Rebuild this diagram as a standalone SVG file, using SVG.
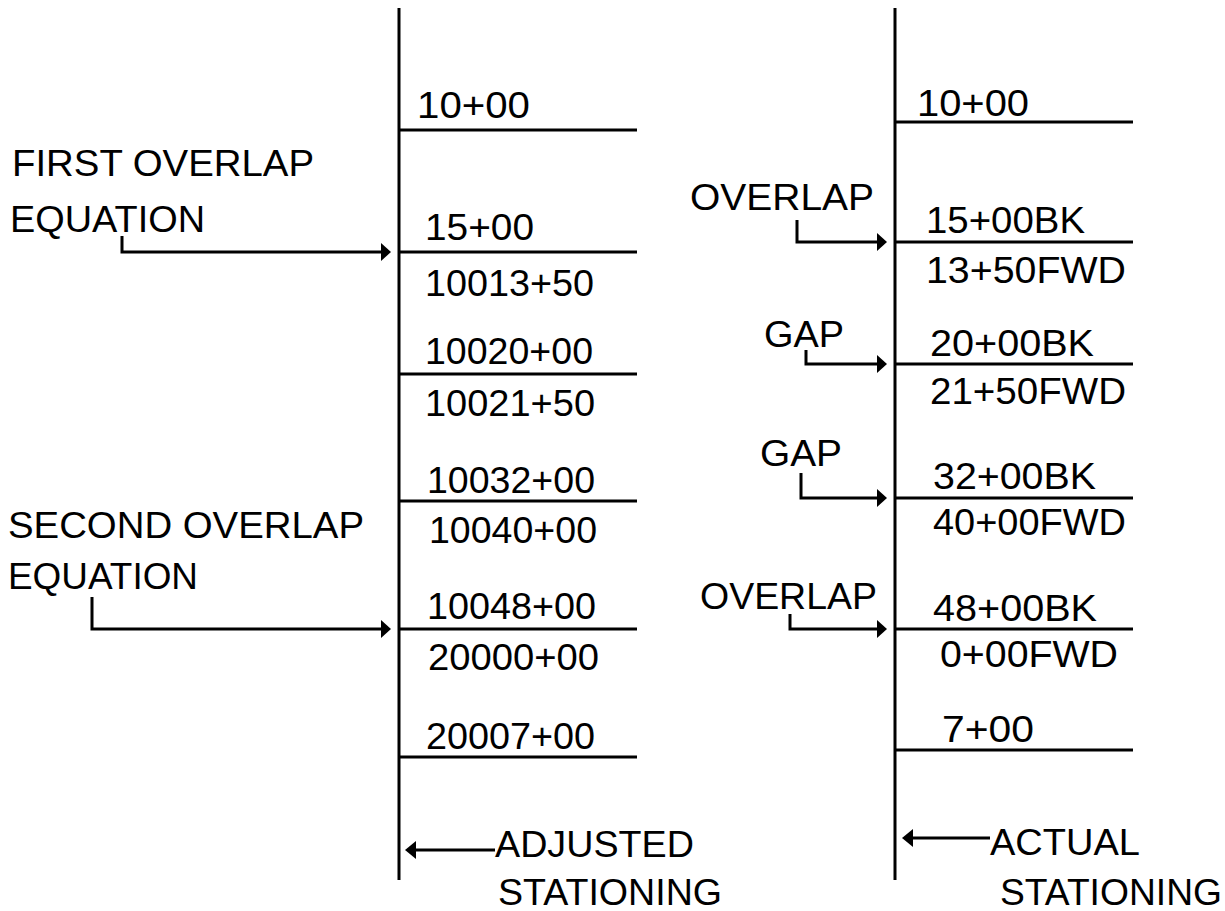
<svg xmlns="http://www.w3.org/2000/svg" width="1225" height="911" viewBox="0 0 1225 911">
<style>
text{font-family:"Liberation Sans",Arial,sans-serif;font-size:37px;fill:#000}
.ln{stroke:#000;stroke-width:3;fill:none}
.ar{fill:#000}
</style>
<rect width="1225" height="911" fill="#fff"/>
<g id="axis-adjusted">
<line class="ln" x1="399" y1="8" x2="399" y2="880"/>
<line class="ln" x1="399" y1="130" x2="637" y2="130"/>
<line class="ln" x1="399" y1="252" x2="637" y2="252"/>
<line class="ln" x1="399" y1="374" x2="637" y2="374"/>
<line class="ln" x1="399" y1="501" x2="637" y2="501"/>
<line class="ln" x1="399" y1="629" x2="637" y2="629"/>
<line class="ln" x1="399" y1="757" x2="637" y2="757"/>
</g>
<g id="axis-actual">
<line class="ln" x1="895" y1="8" x2="895" y2="880"/>
<line class="ln" x1="895" y1="122" x2="1133" y2="122"/>
<line class="ln" x1="895" y1="242" x2="1133" y2="242"/>
<line class="ln" x1="895" y1="364" x2="1133" y2="364"/>
<line class="ln" x1="895" y1="498" x2="1133" y2="498"/>
<line class="ln" x1="895" y1="629" x2="1133" y2="629"/>
<line class="ln" x1="895" y1="750" x2="1133" y2="750"/>
</g>
<g id="adjusted-labels">
<text x="417" y="118" textLength="113" lengthAdjust="spacingAndGlyphs">10+00</text>
<text x="425" y="240" textLength="109" lengthAdjust="spacingAndGlyphs">15+00</text>
<text x="425" y="296" textLength="169" lengthAdjust="spacingAndGlyphs">10013+50</text>
<text x="425" y="364" textLength="168" lengthAdjust="spacingAndGlyphs">10020+00</text>
<text x="425" y="416" textLength="170" lengthAdjust="spacingAndGlyphs">10021+50</text>
<text x="427" y="493" textLength="168" lengthAdjust="spacingAndGlyphs">10032+00</text>
<text x="429" y="543" textLength="168" lengthAdjust="spacingAndGlyphs">10040+00</text>
<text x="427" y="619" textLength="169" lengthAdjust="spacingAndGlyphs">10048+00</text>
<text x="428" y="670" textLength="171" lengthAdjust="spacingAndGlyphs">20000+00</text>
<text x="426" y="749" textLength="169" lengthAdjust="spacingAndGlyphs">20007+00</text>
</g>
<g id="actual-labels">
<text x="917" y="116" textLength="112" lengthAdjust="spacingAndGlyphs">10+00</text>
<text x="926" y="233" textLength="159" lengthAdjust="spacingAndGlyphs">15+00BK</text>
<text x="926" y="283" textLength="200" lengthAdjust="spacingAndGlyphs">13+50FWD</text>
<text x="930" y="356" textLength="164" lengthAdjust="spacingAndGlyphs">20+00BK</text>
<text x="930" y="404" textLength="196" lengthAdjust="spacingAndGlyphs">21+50FWD</text>
<text x="933" y="489" textLength="163" lengthAdjust="spacingAndGlyphs">32+00BK</text>
<text x="933" y="535" textLength="193" lengthAdjust="spacingAndGlyphs">40+00FWD</text>
<text x="933" y="621" textLength="164" lengthAdjust="spacingAndGlyphs">48+00BK</text>
<text x="940" y="667" textLength="178" lengthAdjust="spacingAndGlyphs">0+00FWD</text>
<text x="942" y="742" textLength="92" lengthAdjust="spacingAndGlyphs">7+00</text>
</g>
<g id="first-overlap">
<text x="12" y="176" textLength="302" lengthAdjust="spacingAndGlyphs">FIRST OVERLAP</text>
<text x="10" y="232" textLength="195" lengthAdjust="spacingAndGlyphs">EQUATION</text>
</g>
<g id="second-overlap">
<text x="8" y="538" textLength="356" lengthAdjust="spacingAndGlyphs">SECOND OVERLAP</text>
<text x="8" y="589" textLength="190" lengthAdjust="spacingAndGlyphs">EQUATION</text>
</g>
<g id="overlap-1"><text x="690" y="210" textLength="184" lengthAdjust="spacingAndGlyphs">OVERLAP</text></g>
<g id="gap-1"><text x="764" y="347" textLength="80" lengthAdjust="spacingAndGlyphs">GAP</text></g>
<g id="gap-2"><text x="760" y="466" textLength="82" lengthAdjust="spacingAndGlyphs">GAP</text></g>
<g id="overlap-2"><text x="700" y="609" textLength="177" lengthAdjust="spacingAndGlyphs">OVERLAP</text></g>
<g id="adjusted-title">
<text x="495" y="857" textLength="199" lengthAdjust="spacingAndGlyphs">ADJUSTED</text>
<text x="498" y="905" textLength="224" lengthAdjust="spacingAndGlyphs">STATIONING</text>
</g>
<g id="actual-title">
<text x="990" y="855" textLength="150" lengthAdjust="spacingAndGlyphs">ACTUAL</text>
<text x="1000" y="905" textLength="222" lengthAdjust="spacingAndGlyphs">STATIONING</text>
</g>
<g id="connectors">
<polyline class="ln" points="122,236 122,252 382,252"/>
<polygon class="ar" points="381,243 391,252 381,261"/>
<polyline class="ln" points="92,597 92,629 382,629"/>
<polygon class="ar" points="381,620 391,629 381,638"/>
<polyline class="ln" points="797,220 797,242 878,242"/>
<polygon class="ar" points="877,233 887,242 877,251"/>
<polyline class="ln" points="806,350 806,364 878,364"/>
<polygon class="ar" points="877,355 887,364 877,373"/>
<polyline class="ln" points="801,473 801,498 878,498"/>
<polygon class="ar" points="877,489 887,498 877,507"/>
<polyline class="ln" points="790,614 790,629 878,629"/>
<polygon class="ar" points="877,620 887,629 877,638"/>
<line class="ln" x1="415" y1="850" x2="495" y2="850"/>
<polygon class="ar" points="416,841 405,850 416,859"/>
<line class="ln" x1="912" y1="838" x2="990" y2="838"/>
<polygon class="ar" points="913,829 902,838 913,847"/>
</g>
</svg>
